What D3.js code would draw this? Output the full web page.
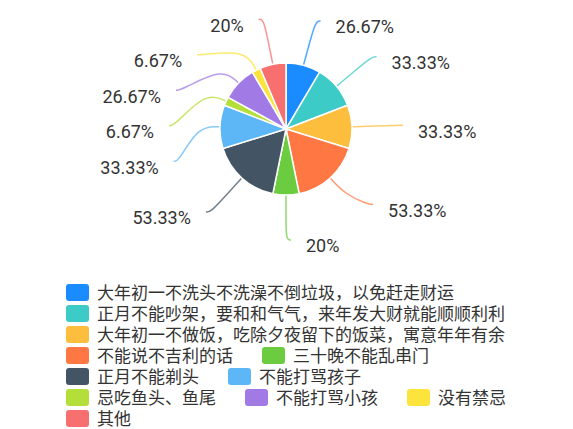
<!DOCTYPE html>
<html lang="zh">
<head>
  <meta charset="UTF-8">
  <title>春节禁忌</title>
  <script src="https://d3js.org/d3.v7.min.js"></script>
  <style>
    body { margin: 0; background: #fff; }
    svg { display: block; }
    .pct { font: 18px Roboto, "Noto Sans", sans-serif; fill: #333; }
    .legend text { font: 17px "Noto Sans CJK SC", sans-serif; fill: #333; }
  </style>
</head>
<body>
  <div id="chart"></div>
  <script>
    const categories = [
      "大年初一不洗头不洗澡不倒垃圾，以免赶走财运",
      "正月不能吵架，要和和气气，来年发大财就能顺顺利利",
      "大年初一不做饭，吃除夕夜留下的饭菜，寓意年年有余",
      "不能说不吉利的话",
      "三十晚不能乱串门",
      "正月不能剃头",
      "不能打骂孩子",
      "忌吃鱼头、鱼尾",
      "不能打骂小孩",
      "没有禁忌",
      "其他"
    ];
    const percents = [26.67, 33.33, 33.33, 53.33, 20, 53.33, 33.33, 6.67, 26.67, 6.67, 20];
    const colors = ["#1a8cff", "#3ccbc6", "#fdbd3d", "#ff7843", "#6acc3e", "#435564",
                    "#5db7f7", "#b4de3a", "#a27ae6", "#fde43c", "#f86f6f"];

    const width = 573, height = 429;
    const cx = 286, cy = 129, radius = 66;
    const bendLen = 22, labelR = 112, hook = 5, rowGap = 35.5;
    const topY = 19, bottomY = 240;

    const svg = d3.select("#chart").append("svg")
      .attr("width", width)
      .attr("height", height);

    const arcs = d3.pie().sort(null).value(d => d)(percents);
    const arc = d3.arc().innerRadius(0).outerRadius(radius);

    // label positions: start on the circle, push apart on each side, then fit back on an ellipse
    const labels = arcs.map((a, i) => {
      const mid = (a.startAngle + a.endAngle) / 2;
      const dir = Math.sin(mid) > -1e-6 ? 1 : -1;
      return { i, mid, dir, y: cy - labelR * Math.cos(mid), x0: labelR * Math.abs(Math.sin(mid)) };
    });

    function spread(list) {
      list.sort((a, b) => a.y - b.y);
      let last = -Infinity;
      list.forEach(l => { l.y = Math.max(l.y, topY, last + rowGap); last = l.y; });
      let next = Infinity;
      for (let k = list.length - 1; k >= 0; k--) {
        list[k].y = Math.min(list[k].y, bottomY, next - rowGap);
        next = list[k].y;
      }
      [list.filter(l => l.y <= cy), list.filter(l => l.y > cy)].forEach(semi => {
        if (!semi.length) return;
        const far = semi.reduce((a, b) => Math.abs(b.y - cy) >= Math.abs(a.y - cy) ? b : a);
        const dy = Math.abs(far.y - cy);
        let rB = far.x0 < labelR ? dy / Math.sqrt(1 - (far.x0 / labelR) ** 2) : labelR;
        rB = Math.max(rB, 1);
        semi.forEach(l => {
          const d = Math.abs(l.y - cy);
          l.dx = Math.sqrt(Math.max(0, 1 - d * d / (rB * rB))) * labelR;
        });
      });
    }
    spread(labels.filter(l => l.dir > 0));
    spread(labels.filter(l => l.dir < 0));
    labels.sort((a, b) => a.i - b.i);

    const line = d3.line().curve(d3.curveBasis);

    svg.append("g")
      .selectAll("path")
      .data(labels)
      .join("path")
      .attr("fill", "none")
      .attr("stroke", d => colors[d.i])
      .attr("stroke-opacity", 0.75)
      .attr("stroke-width", 1.5)
      .attr("d", d => {
        const s = Math.sin(d.mid), c = Math.cos(d.mid);
        const p0 = [cx + radius * s, cy - radius * c];
        const b = [cx + (radius + bendLen) * s, cy - (radius + bendLen) * c];
        const c1 = [cx + d.dir * d.dx, d.y];
        const e = [cx + d.dir * (d.dx + hook), d.y];
        return line([p0, b, c1, e]);
      });

    svg.append("g")
      .attr("transform", `translate(${cx},${cy})`)
      .selectAll("path")
      .data(arcs)
      .join("path")
      .attr("d", arc)
      .attr("fill", (d, i) => colors[i])
      .attr("stroke", "#fff")
      .attr("stroke-width", 1.5);

    svg.append("g")
      .selectAll("text")
      .data(labels)
      .join("text")
      .attr("class", "pct")
      .attr("x", d => cx + d.dir * (d.dx + hook + 15))
      .attr("y", d => d.y + 6)
      .attr("dy", "0.35em")
      .attr("text-anchor", d => d.dir > 0 ? "start" : "end")
      .text(d => percents[d.i] + "%");

    // legend, wrapped like a flow layout
    const legendLeft = 66, legendTop = 284, legendRight = 520;
    const legend = svg.append("g").attr("class", "legend");
    let lx = legendLeft, ly = legendTop;
    categories.forEach((name, i) => {
      const g = legend.append("g");
      g.append("rect")
        .attr("width", 23)
        .attr("height", 17)
        .attr("rx", 3)
        .attr("fill", colors[i]);
      const t = g.append("text")
        .attr("x", 31)
        .attr("y", 8.5)
        .attr("dy", "0.36em")
        .text(name);
      const w = 31 + t.node().getComputedTextLength();
      if (lx > legendLeft && lx + w > legendRight) { lx = legendLeft; ly += 21; }
      g.attr("transform", `translate(${lx},${ly})`);
      lx += w + 29;
    });
  </script>
</body>
</html>
